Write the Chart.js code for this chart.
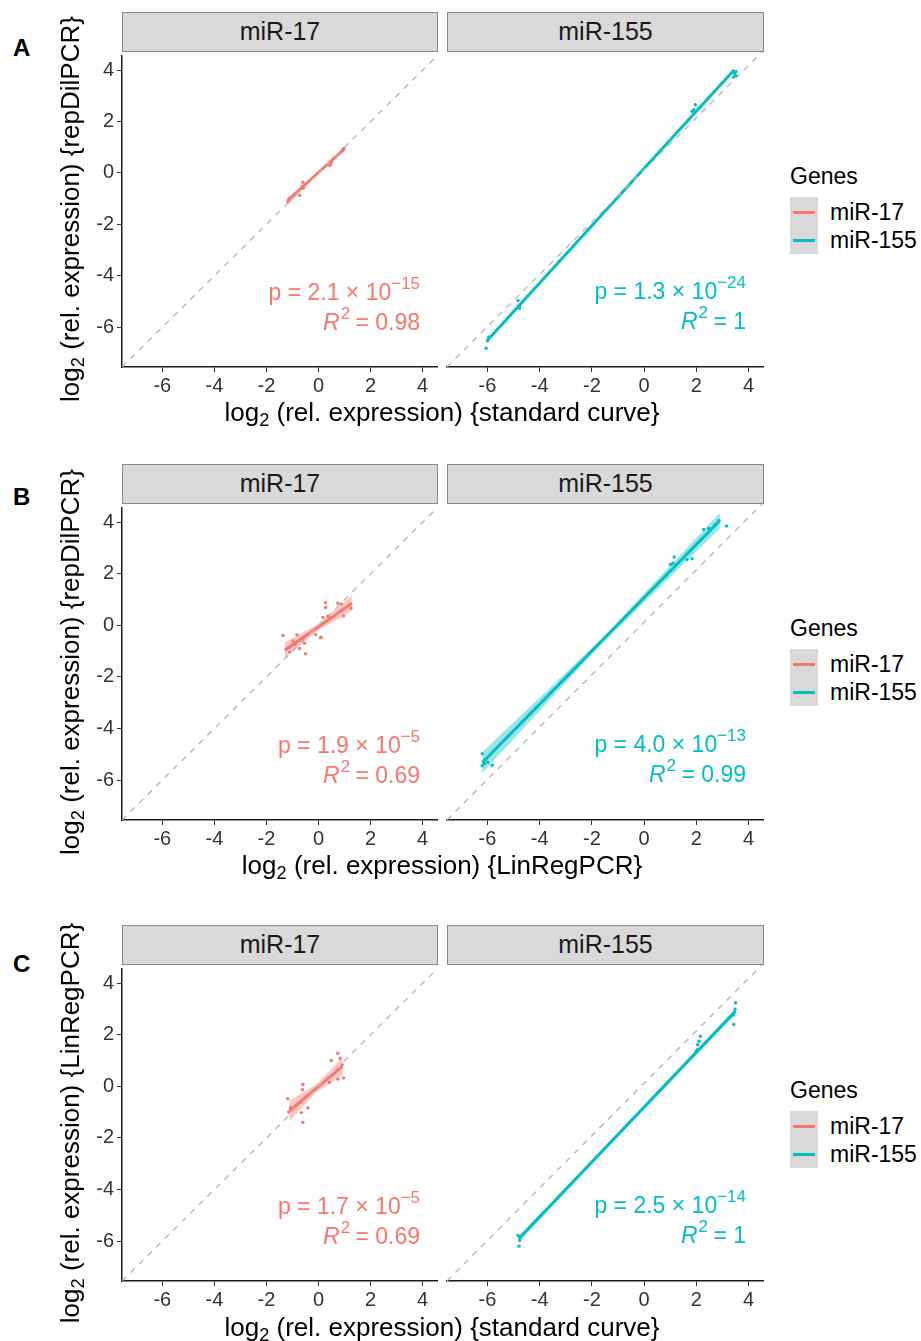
<!DOCTYPE html>
<html>
<head>
<meta charset="utf-8">
<script src="https://cdn.jsdelivr.net/npm/chart.js@4.4.0/dist/chart.umd.min.js"></script>
<style>
  body { margin: 0; width: 921px; height: 1341px; position: relative; overflow: hidden; background: #fff;
         font-family: "Liberation Sans", Arial, Helvetica, sans-serif; }
  canvas { position: absolute; }
  .strip { position: absolute; background: #d9d9d9; border: 1px solid #888; box-sizing: border-box;
           text-align: center; color: #1a1a1a; font-size: 25px; z-index: 2; }
  .title { position: absolute; font-size: 26px; color: #000; white-space: nowrap; text-align: center; line-height: 30px; }
  .title sub { font-size: 0.7em; vertical-align: -0.3em; line-height: 0; }
  .rowlab { position: absolute; font-size: 24px; font-weight: bold; color: #000; line-height: 28px; }
  .legtitle { position: absolute; font-size: 23px; color: #000; line-height: 26px; }
  .legbox { position: absolute; background: #d9d9d9; width: 28px; height: 57px; }
  .legline { position: absolute; width: 22px; height: 3px; }
  .legtext { position: absolute; font-size: 23px; color: #000; line-height: 26px; }
</style>
</head>
<body>
<script>
// ---- data ----
const genes = ["miR-17", "miR-155"];
const geneColors = ["#F8766D", "#00BFC4"];
const rowLabels = ["A", "B", "C"];
const yTitles = ["{repDilPCR}", "{repDilPCR}", "{LinRegPCR}"];
const xTitles = ["{standard curve}", "{LinRegPCR}", "{standard curve}"];
const tickValues = [-6, -4, -2, 0, 2, 4];
const axisLimits = [-7.55, 4.55];

// A: repDilPCR vs standard curve
const a17X = [-1.18, -1.15, -1.12, -1.1, -0.73, -0.62, -0.6, -0.58, 0.42, 0.46, 0.48, 0.5, 0.93, 0.95, 0.97];
const a17Y = [-1.12, -1.05, -1.0, -1.04, -0.87, -0.52, -0.36, -0.6, 0.3, 0.32, 0.4, 0.45, 0.88, 0.92, 0.95];
const a155X = [-6.05, -6.0, -5.97, -5.95, -4.83, -4.8, -4.78, -4.77, 1.83, 1.9, 1.96, 2.1, 3.42, 3.45, 3.5, 3.52];
const a155Y = [-6.83, -6.55, -6.48, -6.4, -5.01, -5.2, -5.25, -5.3, 2.24, 2.3, 2.49, 2.37, 3.55, 3.7, 3.61, 3.76];
// B: repDilPCR vs LinRegPCR
const b17X = [-1.37, -1.11, -0.98, -0.9, -0.83, -0.73, -0.6, -0.54, -0.5, -0.11, 0.08, 0.1, 0.17, 0.27, 0.27, 0.36, 0.74, 0.87, 0.96, 1.25];
const b17Y = [-0.39, -1.03, -0.61, -0.75, -0.36, -0.9, -0.52, -0.7, -1.1, -0.36, -0.48, -0.46, 0.31, 0.88, 0.69, 0.35, 0.86, 0.83, 0.37, 0.67];
const b155X = [-6.2, -6.2, -6.12, -5.99, -5.82, 1.0, 1.1, 1.15, 1.64, 1.83, 2.28, 2.47, 2.72, 2.86, 3.15];
const b155Y = [-5.02, -5.48, -5.4, -5.34, -5.46, 2.2, 2.25, 2.49, 2.39, 2.42, 3.54, 3.58, 3.72, 3.88, 3.67];
// C: LinRegPCR vs standard curve
const c17X = [-1.18, -1.15, -1.08, -0.7, -0.66, -0.62, -0.6, -0.6, -0.41, 0.42, 0.49, 0.74, 0.74, 0.83, 0.91, 0.96];
const c17Y = [-0.48, -1.0, -0.83, -0.61, -1.02, -0.13, 0.07, -1.4, -0.83, 0.16, 1.0, 1.28, 0.28, 1.09, 0.83, 0.32];
const c155X = [-4.83, -4.79, -4.77, -4.75, 1.98, 2.03, 2.05, 2.1, 2.15, 3.43, 3.43, 3.48, 3.5];
const c155Y = [-5.81, -6.22, -6.0, -5.9, 1.2, 1.28, 1.47, 1.6, 1.79, 2.24, 2.6, 2.82, 3.07];

// fitted lines (start, middle, end) and half width of the confidence band
const a17FitX = [-1.18, -0.1, 0.97],  a17FitY = [-1.07, -0.07, 0.92],  a17Band = [0.08, 0.03, 0.07];
const a155FitX = [-6.0, -1.28, 3.45], a155FitY = [-6.53, -1.35, 3.83], a155Band = [0.06, 0.03, 0.06];
const b17FitX = [-1.3, 0, 1.28],      b17FitY = [-0.97, -0.06, 0.86],  b17Band = [0.3, 0.12, 0.3];
const b155FitX = [-6.2, -1.6, 2.9],   b155FitY = [-5.36, -0.69, 3.88], b155Band = [0.4, 0.1, 0.3];
const c17FitX = [-1.12, -0.1, 0.92],  c17FitY = [-0.95, -0.09, 0.77],  c17Band = [0.4, 0.15, 0.35];
const c155FitX = [-4.8, -0.65, 3.5],  c155FitY = [-5.94, -1.59, 2.75], c155Band = [0.12, 0.05, 0.1];

const pMantissa = ["2.1", "1.3", "1.9", "4.0", "1.7", "2.5"];
const pExponent = ["\u221215", "\u221224", "\u22125", "\u221213", "\u22125", "\u221214"];
const rSquared = ["0.98", "1", "0.69", "0.99", "0.69", "1"];

const panels = [
  [a17X, a17Y, a17FitX, a17FitY, a17Band],
  [a155X, a155Y, a155FitX, a155FitY, a155Band],
  [b17X, b17Y, b17FitX, b17FitY, b17Band],
  [b155X, b155Y, b155FitX, b155FitY, b155Band],
  [c17X, c17Y, c17FitX, c17FitY, c17Band],
  [c155X, c155Y, c155FitX, c155FitY, c155Band]
];

// ---- layout ----
const rowTop = [51, 503, 964];
const rowBottom = [367, 820, 1281];
const colLeft = [122, 447];
const colRight = [437, 763];
const stripH = 39;
const FONT = "Liberation Sans, Arial, sans-serif";
const fillColors = ["rgba(248,118,109,0.4)", "rgba(0,191,196,0.4)"];

function el(cls, html, css) {
  const d = document.createElement("div");
  d.className = cls;
  d.innerHTML = html;
  Object.assign(d.style, css);
  document.body.appendChild(d);
  return d;
}

// p value and R^2 text inside each panel
const statText = {
  id: "statText",
  afterDatasetsDraw(chart, args, o) {
    const ctx = chart.ctx;
    const right = chart.scales.x.getPixelForValue(3.9);
    const y1 = chart.scales.y.getPixelForValue(-4.95);
    const y2 = chart.scales.y.getPixelForValue(-6.1);
    ctx.save();
    ctx.fillStyle = o.color;
    ctx.textBaseline = "alphabetic";
    ctx.textAlign = "left";
    const big = "23px " + FONT, small = "17px " + FONT, ital = "italic 23px " + FONT;
    // line 1
    const base = "p = " + o.mant + " \u00d7 10";
    ctx.font = big; const bw = ctx.measureText(base).width;
    ctx.font = small; const sw = ctx.measureText(o.exp).width;
    let x0 = right - bw - sw;
    ctx.font = big; ctx.fillText(base, x0, y1);
    ctx.font = small; ctx.fillText(o.exp, x0 + bw, y1 - 11);
    // line 2
    ctx.font = ital; const rw = ctx.measureText("R").width;
    ctx.font = small; const tw = ctx.measureText("2").width;
    const rest = " = " + o.r2;
    ctx.font = big; const ew = ctx.measureText(rest).width;
    x0 = right - rw - tw - ew;
    ctx.font = ital; ctx.fillText("R", x0, y2);
    ctx.font = small; ctx.fillText("2", x0 + rw + 1, y2 - 11);
    ctx.font = big; ctx.fillText(rest, x0 + rw + tw, y2);
    ctx.restore();
  }
};

panels.forEach((p, i) => {
  const r = Math.floor(i / 2), c = i % 2;
  const [xs, ys, fx, fy, bh] = p;
  const padL = 50, padT = 10, padR = 10, axisH = 34;
  const w = colRight[c] - colLeft[c], h = rowBottom[r] - rowTop[r];

  const cv = document.createElement("canvas");
  cv.width = w + padL + padR;
  cv.height = h + padT + axisH;
  cv.style.left = (colLeft[c] - padL) + "px";
  cv.style.top = (rowTop[r] - padT) + "px";
  cv.style.width = cv.width + "px";
  cv.style.height = cv.height + "px";
  document.body.appendChild(cv);

  el("strip", genes[c], {
    left: colLeft[c] + "px", top: (rowTop[r] - stripH) + "px",
    width: (w + 1) + "px", height: (stripH + 1) + "px", lineHeight: (stripH - 2) + "px"
  });

  const col = geneColors[c];
  const left = c === 0;
  new Chart(cv, {
    type: "scatter",
    data: {
      datasets: [
        { type: "scatter", data: xs.map((x, k) => ({ x: x, y: ys[k] })), pointRadius: 1.7,
          backgroundColor: col, borderWidth: 0, order: 0 },
        { type: "line", data: axisLimits.map(v => ({ x: v, y: v })), borderColor: "#b5b5b5",
          borderWidth: 1.3, borderDash: [6, 6], pointRadius: 0, order: 1 },
        { type: "line", data: fx.map((x, k) => ({ x: x, y: fy[k] })), borderColor: col,
          borderWidth: 3, pointRadius: 0, order: 2 },
        { type: "line", data: fx.map((x, k) => ({ x: x, y: fy[k] + bh[k] })), borderWidth: 0,
          pointRadius: 0, fill: false, order: 3 },
        { type: "line", data: fx.map((x, k) => ({ x: x, y: fy[k] - bh[k] })), borderWidth: 0,
          pointRadius: 0, fill: "-1", backgroundColor: fillColors[c], order: 3 }
      ]
    },
    options: {
      responsive: false,
      animation: false,
      devicePixelRatio: 1,
      layout: { padding: { top: padT, right: padR, left: 0, bottom: 0 } },
      plugins: {
        legend: { display: false },
        tooltip: { enabled: false },
        statText: { color: col, mant: pMantissa[i], exp: pExponent[i], r2: rSquared[i] }
      },
      scales: {
        x: {
          type: "linear", position: "bottom", min: axisLimits[0], max: axisLimits[1],
          afterBuildTicks: s => { s.ticks = tickValues.map(v => ({ value: v })); },
          afterFit: s => { s.height = axisH; },
          grid: { display: true, drawOnChartArea: false, tickLength: 5, color: "#333", lineWidth: 1 },
          border: { display: true, color: "#1a1a1a", width: 1.5 },
          ticks: { color: "#333", font: { family: FONT, size: 20 }, padding: 2, maxRotation: 0, autoSkip: false }
        },
        y: {
          type: "linear", min: axisLimits[0], max: axisLimits[1],
          afterBuildTicks: s => { s.ticks = tickValues.map(v => ({ value: v })); },
          afterFit: s => { s.width = padL; },
          grid: { display: left, drawOnChartArea: false, tickLength: 5, color: "#333", lineWidth: 1 },
          border: { display: left, color: "#1a1a1a", width: 1.5 },
          ticks: { display: left, color: "#333", font: { family: FONT, size: 20 }, padding: 3, autoSkip: false }
        }
      }
    },
    plugins: [statText]
  });
});

// row labels, axis titles, legends
const rowLabelTop = [34, 483, 950];
const xTitleTop = [397, 850, 1312];
const legendTop = [163, 615, 1077];
rowLabels.forEach((lab, r) => {
  const mid = (rowTop[r] + rowBottom[r]) / 2;
  el("rowlab", lab, { left: "13px", top: rowLabelTop[r] + "px" });
  el("title", "log<sub>2</sub> (rel. expression) " + xTitles[r],
     { left: "142px", width: "600px", top: xTitleTop[r] + "px" });
  el("title", "log<sub>2</sub> (rel. expression) " + yTitles[r],
     { left: (70 - 250) + "px", width: "500px", top: (mid - 15) + "px", transform: "rotate(-90deg)" });
  const lt = legendTop[r];
  el("legtitle", "Genes", { left: "790px", top: lt + "px" });
  el("legbox", "", { left: "790px", top: (lt + 34) + "px" });
  genes.forEach((g, k) => {
    const cy = lt + 49 + k * 28;
    el("legline", "", { left: "793px", top: (cy - 1.5) + "px", background: geneColors[k] });
    el("legtext", g, { left: "830px", top: (cy - 13) + "px" });
  });
});
</script>
</body>
</html>
